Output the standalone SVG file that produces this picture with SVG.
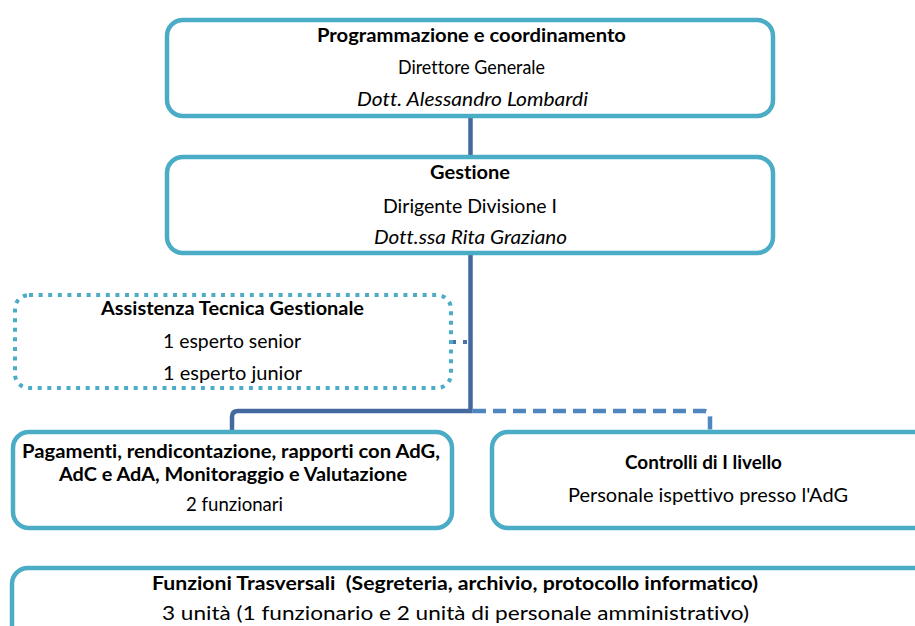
<svg xmlns="http://www.w3.org/2000/svg" width="915" height="626" viewBox="0 0 915 626">
<style>
.box{fill:#ffffff;stroke:#4bacc6;stroke-width:4.5}
.dotbox{fill:#ffffff;stroke:#4bacc6;stroke-width:4;stroke-dasharray:4 5.6}
.t{font-family:Lato,"Noto Sans",sans-serif;font-size:18.5px;fill:#000;text-anchor:middle;font-variant-ligatures:none}
.b{font-weight:bold;font-size:18px}
.i{font-style:italic}
.solid{fill:none;stroke:#44699e;stroke-width:4.5}
.dash{fill:none;stroke:#4f86bf;stroke-width:4.5;stroke-dasharray:13 7}
.dot{fill:none;stroke:#4a74a8;stroke-width:4;stroke-dasharray:4 7}
</style>
<rect width="915" height="626" fill="#ffffff"/>
<g id="connectors">
<line class="solid" x1="470.5" y1="116" x2="470.5" y2="157"/>
<path class="solid" d="M470.5 253 V411 H238 Q232 411 232 417 V432"/>
<path class="dash" d="M473 411 H704 Q710 411 710 417 V432"/>
<line class="dot" x1="452" y1="342" x2="470" y2="342"/>
</g>
<g id="node-programmazione">
<rect class="box" x="167" y="20" width="606" height="96" rx="16"/>
<text class="t b" x="471.5" y="42" textLength="309" lengthAdjust="spacingAndGlyphs">Programmazione e coordinamento</text>
<text class="t" x="471.5" y="74" textLength="147" lengthAdjust="spacingAndGlyphs">Direttore Generale</text>
<text class="t i" x="472.5" y="106" textLength="231" lengthAdjust="spacingAndGlyphs">Dott. Alessandro Lombardi</text>
</g>
<g id="node-gestione">
<rect class="box" x="167" y="157" width="606" height="96" rx="16"/>
<text class="t b" x="470" y="179" textLength="80" lengthAdjust="spacingAndGlyphs">Gestione</text>
<text class="t" x="470" y="213" textLength="174" lengthAdjust="spacingAndGlyphs">Dirigente Divisione I</text>
<text class="t i" x="470.5" y="244" textLength="193" lengthAdjust="spacingAndGlyphs">Dott.ssa Rita Graziano</text>
</g>
<g id="node-assistenza">
<rect class="dotbox" x="15" y="295" width="436" height="93" rx="14"/>
<text class="t b" x="232.5" y="315" textLength="263" lengthAdjust="spacingAndGlyphs">Assistenza Tecnica Gestionale</text>
<text class="t" x="232" y="348" textLength="138" lengthAdjust="spacingAndGlyphs">1 esperto senior</text>
<text class="t" x="232.5" y="380" textLength="139" lengthAdjust="spacingAndGlyphs">1 esperto junior</text>
</g>
<g id="node-pagamenti">
<rect class="box" x="13" y="432" width="439" height="96" rx="16"/>
<text class="t b" x="231" y="458" textLength="418" lengthAdjust="spacingAndGlyphs">Pagamenti, rendicontazione, rapporti con AdG,</text>
<text class="t b" x="233" y="481" textLength="348" lengthAdjust="spacingAndGlyphs">AdC e AdA, Monitoraggio e Valutazione</text>
<text class="t" x="234.5" y="511" textLength="97" lengthAdjust="spacingAndGlyphs">2 funzionari</text>
</g>
<g id="node-controlli">
<rect class="box" x="492" y="432" width="439" height="96" rx="16"/>
<text class="t b" x="703.5" y="469" textLength="157" lengthAdjust="spacingAndGlyphs">Controlli di I livello</text>
<text class="t" x="708" y="502" textLength="280" lengthAdjust="spacingAndGlyphs">Personale ispettivo presso l'AdG</text>
</g>
<g id="node-funzioni">
<rect class="box" x="12" y="568" width="920" height="80" rx="16"/>
<text class="t b" x="455" y="590" textLength="606" lengthAdjust="spacingAndGlyphs" xml:space="preserve">Funzioni Trasversali  (Segreteria, archivio, protocollo informatico)</text>
<text class="t" x="455.5" y="620" textLength="587" lengthAdjust="spacingAndGlyphs">3 unità (1 funzionario e 2 unità di personale amministrativo)</text>
</g>
</svg>
